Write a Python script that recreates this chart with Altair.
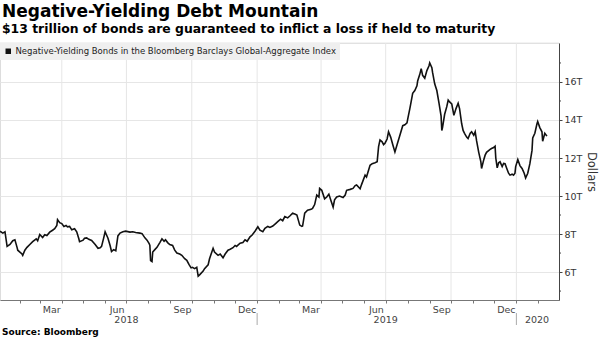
import altair as alt
import pandas as pd

# ---- data -----------------------------------------------------------------
# observation dates, as days since 2018-01-01
day_offsets = (
    [3, 7, 10, 13, 17, 21, 24, 27, 28, 31, 34, 35]
    + [38, 41, 45, 49, 54, 56, 59, 63, 66, 69, 73, 77, 80, 83, 84]
    + [87, 90, 93, 96, 98, 101, 104, 108, 111, 114, 115, 120, 122, 125, 128]
    + [132, 137, 141, 144, 146, 149, 151, 153, 155, 158, 160, 163, 166, 169]
    + [172, 176, 180, 186, 190, 194, 200, 203, 207, 210, 213, 214, 215, 217, 218]
    + [221, 224, 228, 231, 234, 236, 239, 242, 246, 249, 252, 256, 259]
    + [263, 266, 269, 272, 274, 277, 280, 282, 284, 289, 291, 296, 298]
    + [303, 305, 310, 313, 317, 320, 324, 327, 331, 334, 336]
    + [341, 345, 348, 351, 355, 358, 362, 366, 369, 373, 376, 380, 383]
    + [387, 391, 394, 398, 401, 404, 408, 411, 415, 418, 421, 424, 425, 428, 429]
    + [432, 436, 441, 443, 446, 449, 452, 453, 456, 460, 463, 466, 469, 472, 474, 477]
    + [481, 486, 489, 491, 496, 500, 503, 505, 510, 512, 517, 519, 524, 527, 531, 534]
    + [536, 538, 541, 543, 545, 548, 550, 553, 556, 559, 562, 566, 570, 573, 576]
    + [577, 580, 581, 584, 587, 590, 591, 594, 596, 598, 601, 604, 607, 608, 611, 612]
    + [615, 618, 621, 624, 625, 626, 629, 632, 634, 636, 639, 642, 645, 648]
    + [650, 653, 655, 657, 660, 662, 665, 667, 670, 672, 674, 677, 680, 681]
    + [684, 686, 688, 693, 695, 698, 700, 701, 703, 705, 707, 710, 712, 714, 717]
    + [719, 721, 724, 726, 728, 729, 732, 735, 738, 741, 743, 746, 749]
    + [752, 753, 756, 759, 760, 763, 766, 767, 770, 773]
)
# market value of negative-yielding bonds, trillions of dollars
values_trn = (
    [8.15, 8.05, 8.12, 7.35, 7.45, 7.65, 7.70, 7.30, 7.15, 7.05, 6.95, 6.88]
    + [7.15, 7.30, 7.45, 7.60, 7.75, 7.65, 7.98, 7.82, 7.96, 7.92, 8.10, 8.20, 8.28, 8.45, 8.76]
    + [8.60, 8.55, 8.40, 8.45, 8.38, 8.40, 8.22, 8.28, 8.12, 7.75, 7.60, 7.68, 7.78, 7.80, 7.72]
    + [7.66, 7.45, 7.25, 7.28, 7.35, 7.80, 8.12, 7.95, 7.78, 7.40, 7.08, 7.18, 7.12, 7.90]
    + [8.05, 8.12, 8.15, 8.10, 8.12, 8.08, 8.05, 8.02, 7.80, 7.68, 7.50, 7.40, 6.60, 6.55, 7.05]
    + [7.18, 7.30, 7.55, 7.75, 7.62, 7.70, 7.55, 7.45, 7.40, 7.15, 7.00, 6.95, 6.88]
    + [6.70, 6.62, 6.40, 6.22, 6.25, 6.18, 6.25, 5.78, 5.85, 6.05, 6.18, 6.38, 6.70]
    + [7.25, 7.05, 6.88, 6.95, 6.75, 6.95, 7.15, 7.20, 7.28, 7.40, 7.35]
    + [7.52, 7.55, 7.70, 7.62, 7.85, 7.95, 8.15, 8.38, 8.20, 8.12, 8.30, 8.40, 8.35]
    + [8.42, 8.55, 8.65, 8.78, 8.70, 8.92, 8.85, 8.95, 9.10, 9.05, 9.00, 8.60, 8.47, 8.40, 8.42]
    + [9.10, 9.25, 9.30, 9.35, 9.55, 10.05, 9.95, 10.40, 10.30, 9.85, 9.95, 10.10, 9.75, 9.42, 9.80, 9.95]
    + [10.00, 9.92, 10.05, 10.30, 10.35, 10.40, 10.55, 10.58, 10.38, 10.60, 11.10, 11.00, 11.62, 11.70, 11.75, 11.80]
    + [12.60, 12.95, 12.85, 12.70, 12.78, 13.00, 13.38, 13.10, 12.70, 12.32, 12.70, 13.20, 13.70, 13.75, 13.85]
    + [14.05, 14.60, 14.80, 15.40, 15.55, 15.80, 16.05, 16.40, 16.70, 16.35, 16.20, 16.60, 16.85, 17.00, 16.75, 16.50]
    + [15.90, 15.55, 14.90, 14.20, 13.45, 13.60, 14.30, 14.70, 15.05, 14.95, 14.85, 14.25, 14.60, 14.88]
    + [14.60, 13.80, 13.45, 13.30, 13.10, 13.02, 13.30, 13.38, 13.20, 13.38, 12.90, 12.30, 11.80, 11.45]
    + [11.90, 12.15, 12.30, 12.45, 12.50, 12.55, 12.62, 12.00, 11.48, 11.75, 11.80, 11.55, 11.72, 11.70, 11.40]
    + [11.20, 11.10, 11.15, 11.10, 11.20, 11.55, 11.92, 11.60, 11.45, 11.20, 10.95, 11.20, 11.70]
    + [12.40, 13.05, 13.30, 13.80, 13.92, 13.60, 13.38, 12.88, 13.30, 13.15]
)

series_name = "Negative-Yielding Bonds in the Bloomberg Barclays Global-Aggregate Index"
title_text = "Negative-Yielding Debt Mountain"
subtitle_text = "$13 trillion of bonds are guaranteed to inflict a loss if held to maturity"
source_text = "Source: Bloomberg"

y_ticks = [6, 8, 10, 12, 14, 16]
y_minor = [5, 7, 9, 11, 13, 15, 17]
quarter_starts = ["2018-04-01", "2018-07-01", "2018-10-01", "2019-01-01",
                  "2019-04-01", "2019-07-01", "2019-10-01", "2020-01-01"]
year_labels = ["2018", "2019", "2020"]
year_label_dates = ["2018-07-01", "2019-07-01", "2020-01-30"]
year_breaks = ["2019-01-01", "2020-01-01"]
x_domain = ["2018-01-04", "2020-03-01"]
y_domain = [4.53, 18.05]

# ---- layout ---------------------------------------------------------------
W, H = 559, 257
FONT = "DejaVu Sans"

start = pd.Timestamp("2018-01-01")
df = pd.DataFrame({
    "date": [(start + pd.Timedelta(days=d)).strftime("%Y-%m-%d") for d in day_offsets],
    "value": values_trn,
    "series": series_name,
})


def dt(s):
    y, m, d = map(int, s.split("-"))
    return alt.DateTime(year=y, month=m, date=d, utc=True)


month_ticks = (
    [alt.DateTime(year=2018, month=m, date=1, utc=True) for m in range(2, 13)]
    + [alt.DateTime(year=2019, month=m, date=1, utc=True) for m in range(1, 13)]
    + [alt.DateTime(year=2020, month=m, date=1, utc=True) for m in range(1, 3)]
)

xscale = alt.Scale(type="utc", domain=[dt(x_domain[0]), dt(x_domain[1])])
yscale = alt.Scale(domain=y_domain, nice=False, zero=False)

xaxis = alt.Axis(
    values=month_ticks,
    labelExpr="utcmonth(datum.value) % 3 == 2 ? utcFormat(datum.value, '%b') : ''",
    labelOffset=11.5,
    tickSize=3,
    grid=False,
    title=None,
    domainColor="#777",
    tickColor="#777",
    labelColor="#444",
    labelFont=FONT,
    labelFontSize=9.5,
    labelPadding=1,
    labelOverlap=False,
    labelBound=False,
    labelFlush=False,
)
yaxis = alt.Axis(
    orient="right",
    values=y_ticks,
    labelExpr="datum.value + 'T'",
    grid=True,
    gridColor="#e6e6e6",
    domainColor="#444",
    tickColor="#444",
    tickSize=3,
    labelPadding=2,
    labelColor="#333",
    labelFont=FONT,
    labelFontSize=9.5,
    title="Dollars",
    titleFont=FONT,
    titleFontSize=11.5,
    titleFontWeight="normal",
    titleColor="#333",
    titlePadding=4,
)

vgrid = alt.Chart(pd.DataFrame({"date": quarter_starts})).mark_rule(
    color="#e6e6e6", strokeWidth=1
).encode(x=alt.X("date:T", scale=xscale, axis=xaxis))

top_rule = alt.Chart(pd.DataFrame({"k": [0]})).mark_rule(
    color="#e6e6e6", strokeWidth=1
).encode(x=alt.value(0), x2=alt.value(W), y=alt.value(0))

line = alt.Chart(df).mark_line(strokeWidth=1.6).encode(
    x=alt.X("date:T", scale=xscale, axis=xaxis),
    y=alt.Y("value:Q", scale=yscale, axis=yaxis),
    color=alt.Color(
        "series:N",
        scale=alt.Scale(range=["#111111"]),
        legend=alt.Legend(
            title=None,
            orient="none",
            legendX=0,
            legendY=0,
            fillColor="#efefef",
            padding=4,
            symbolType="square",
            symbolSize=30,
            symbolFillColor="#111111",
            symbolStrokeWidth=0,
            labelFont=FONT,
            labelFontSize=8.5,
            labelColor="#222",
            labelOffset=3,
            labelLimit=0,
        ),
    ),
)

minor = alt.Chart(pd.DataFrame({"value": y_minor})).mark_rule(color="#444").encode(
    y=alt.Y("value:Q", scale=yscale, axis=yaxis), x=alt.value(W), x2=alt.value(W + 2)
)

years = alt.Chart(pd.DataFrame({"date": year_label_dates, "label": year_labels})).mark_text(
    font=FONT, fontSize=9.5, color="#444", baseline="alphabetic"
).encode(x=alt.X("date:T", scale=xscale, axis=xaxis), y=alt.value(H + 22.5), text="label:N")

seps = alt.Chart(pd.DataFrame({"date": year_breaks})).mark_rule(color="#aaaaaa").encode(
    x=alt.X("date:T", scale=xscale, axis=xaxis), y=alt.value(H + 13), y2=alt.value(H + 25)
)

source = alt.Chart(pd.DataFrame({"t": [source_text]})).mark_text(
    font=FONT, fontSize=9, fontWeight="bold", align="left", baseline="alphabetic", color="#000"
).encode(x=alt.value(2), y=alt.value(H + 35), text="t:N")

chart = alt.layer(vgrid, top_rule, line, minor, years, seps, source).properties(
    width=W,
    height=H,
    title=alt.TitleParams(
        text=title_text,
        subtitle=subtitle_text,
        anchor="start",
        frame="group",
        font=FONT,
        fontSize=17,
        fontWeight="bold",
        color="#000",
        subtitleFont=FONT,
        subtitleFontSize=12.4,
        subtitleFontWeight="bold",
        subtitleColor="#000",
        subtitlePadding=2,
        offset=6,
        dx=2,
    ),
    autosize=alt.AutoSizeParams(type="none"),
    padding={"left": 0, "top": 43, "right": 41, "bottom": 37},
).configure_view(stroke=None).configure(background="white")

chart.save("out.html", embed_options={"renderer": "svg", "actions": False})
